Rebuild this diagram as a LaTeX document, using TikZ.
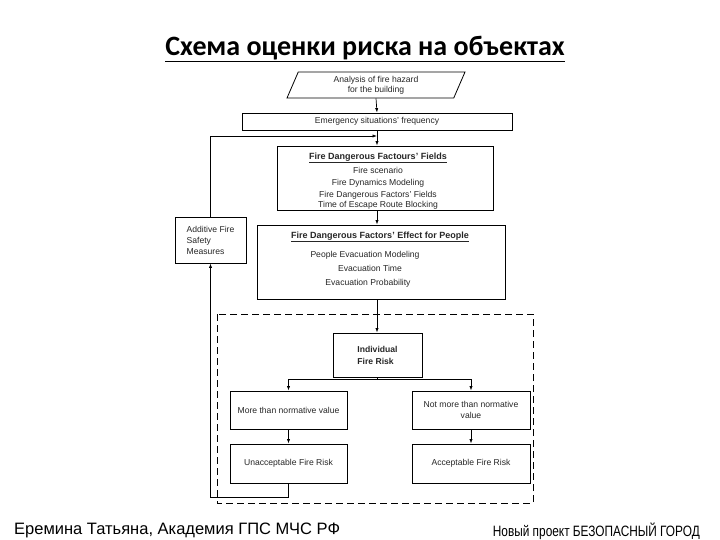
\documentclass[tikz,border=0pt]{standalone}
\usepackage{fontspec}
\setmainfont{Liberation Sans}
\newfontfamily\titlefont{Carlito}
\usetikzlibrary{shapes.geometric,arrows.meta}
\tikzstyle{title} = [font=\titlefont\bfseries\fontsize{28}{32}\selectfont, inner sep=0pt]
\tikzstyle{box} = [draw, line width=0.8pt, inner sep=2pt, align=center, text=black!85, font=\fontsize{8.6}{11}\selectfont]
\tikzstyle{para} = [box, trapezium, trapezium left angle=58, trapezium right angle=122, trapezium stretches body=true, minimum width=178, minimum height=26, inner sep=0pt]
\tikzstyle{txt} = [inner sep=0pt, text=black!85, font=\fontsize{8.6}{11}\selectfont]
\tikzstyle{head} = [txt, font=\bfseries\fontsize{9}{11}\selectfont]
\tikzstyle{arr} = [draw, line width=0.7pt, -{Latex[length=4.5pt,width=3.2pt]}]
\tikzstyle{foot} = [inner sep=0pt, font=\fontsize{16.5}{18}\selectfont]

\begin{document}
\begin{tikzpicture}[x=1pt,y=-1pt]
\useasboundingbox (0,0) rectangle (720,540);
\node[title] (title) at (365,49) {\underline{Схема оценки риска на объектах}};

\node[para] (analysis) at (376,85) {Analysis of fire hazard\\[-1pt]for the building};
\node[box, minimum width=270, minimum height=17] (freq) at (377,121.5) {Emergency situations' frequency};
\coordinate (merge) at (377,136);

\node[box, minimum width=216, minimum height=64] (fields) at (385,178) {};
\node[head] (fields-t) at (378,158) {\underline{Fire Dangerous Factours' Fields}};
\node[txt] (fields-a) at (378,170) {Fire scenario};
\node[txt] (fields-b) at (378,183) {Fire Dynamics Modeling};
\node[txt] (fields-c) at (378,195) {Fire Dangerous Factors' Fields};
\node[txt] (fields-d) at (378,205) {Time of Escape Route Blocking};

\node[box, minimum width=248, minimum height=74] (effect) at (381,262) {};
\node[head] (effect-t) at (380,237) {\underline{Fire Dangerous Factors' Effect for People}};
\node[txt] (effect-a) at (365,255) {People Evacuation Modeling};
\node[txt] (effect-b) at (370,268) {Evacuation Time};
\node[txt] (effect-c) at (368,283) {Evacuation Probability};

\node[box, minimum width=71, minimum height=46, align=left] (additive) at (210.5,240) {Additive Fire\\Safety\\Measures};

\draw[line width=0.8pt, dash pattern=on 7pt off 4pt] (217,314) rectangle (533,503);
\node[box, minimum width=89, minimum height=44, align=left, font=\bfseries\fontsize{8.6}{12}\selectfont] (risk) at (377.5,355) {Individual\\Fire Risk};
\node[box, minimum width=117, minimum height=38] (more) at (288.5,410) {More than normative value};
\node[box, minimum width=118, minimum height=38] (notmore) at (471,410) {Not more than normative\\value};
\node[box, minimum width=117, minimum height=39] (unacc) at (288.5,463.5) {Unacceptable Fire Risk};
\node[box, minimum width=118, minimum height=39] (acc) at (471,463.5) {Acceptable Fire Risk};

\draw[arr] (analysis.south) -- (freq.north);
\draw[arr] (freq.south) -- (freq.south |- fields.north);
\draw[arr] (additive.north) |- (merge);
\draw[arr] (freq.south |- fields.south) -- (freq.south |- effect.north);
\draw[arr] (freq.south |- effect.south) -- (freq.south |- risk.north);
\draw[arr] (risk.south) -- ++(0,2) -| (more.north);
\draw[arr] (risk.south) -- ++(0,2) -| (notmore.north);
\draw[arr] (more) -- (unacc);
\draw[arr] (notmore) -- (acc);
\draw[arr] (unacc.south) -- ++(0,14) -| (additive.south);

\node[foot, anchor=west] (author) at (14,530) {Еремина Татьяна, Академия ГПС МЧС РФ};
\node[inner sep=0pt, anchor=east, font=\fontsize{15}{17}\selectfont] (project) at (700,531) {\scalebox{0.79}[1]{Новый проект БЕЗОПАСНЫЙ ГОРОД}};
\end{tikzpicture}
\end{document}
